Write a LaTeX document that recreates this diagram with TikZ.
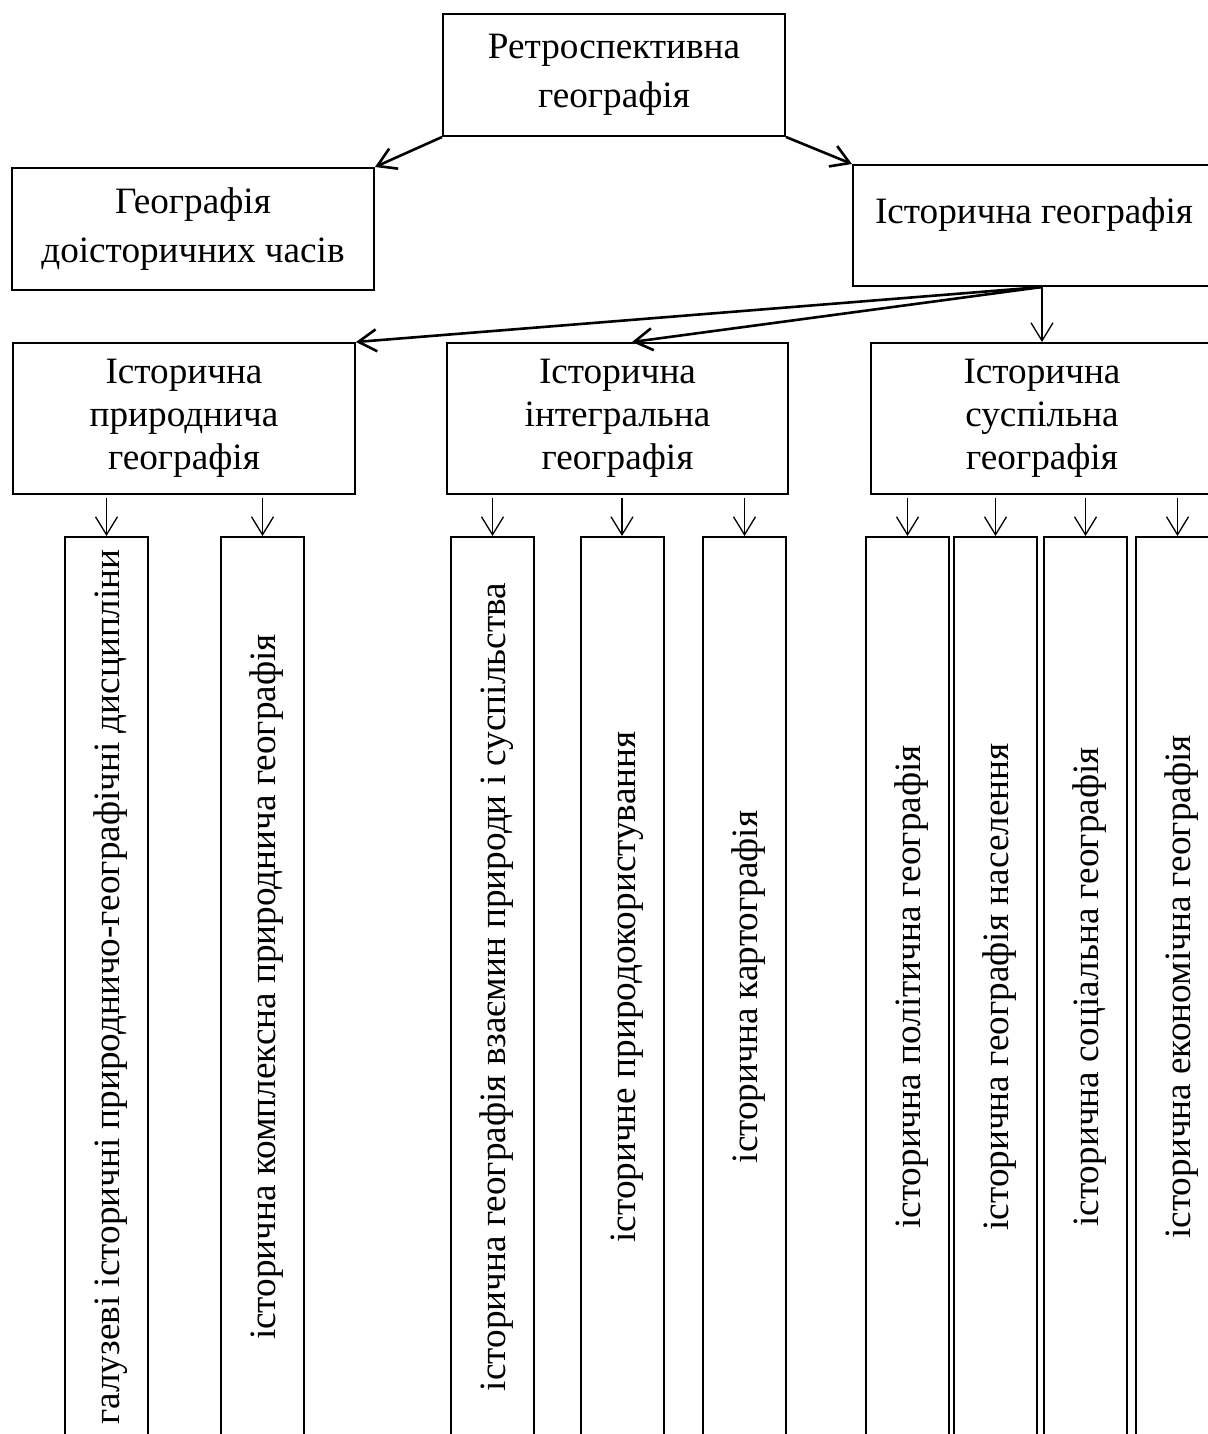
\documentclass[tikz,border=0pt]{standalone}
\usepackage{fontspec}
\setmainfont{Liberation Serif}
\usetikzlibrary{arrows.meta,calc}
\begin{document}
\begin{tikzpicture}[x=0.5pt,y=-0.5pt,
  topbox/.style={draw,line width=1pt,rectangle,inner sep=0pt,align=center,
    font=\fontsize{18.6pt}{24.5pt}\selectfont},
  midbox/.style={draw,line width=1pt,rectangle,inner sep=0pt,align=center,
    minimum width=171pt,minimum height=75.5pt,
    font=\fontsize{18.6pt}{21.5pt}\selectfont},
  leaf/.style={draw,line width=1pt,rectangle,inner sep=0pt,
    minimum width=41.5pt,minimum height=450pt},
  vtext/.style={rotate=90,anchor=base,inner sep=0pt,
    font=\fontsize{18.6pt}{21.5pt}\selectfont},
  htext/.style={anchor=base,inner sep=0pt,
    font=\fontsize{18.6pt}{21.5pt}\selectfont},
  thick arrow/.style={-{Straight Barb[length=9pt,width=11pt]},line width=1.3pt},
  thin arrow/.style={-{Straight Barb[length=9pt,width=11pt]},line width=0.65pt}
]
\useasboundingbox (0,0) rectangle (1208,1434);
\clip (0,0) rectangle (1208,1434);

% top level
\node[topbox,minimum width=171pt,minimum height=61pt] (rg) at (614,75) {Ретроспективна\\географія};
\node[topbox,minimum width=181pt,minimum height=61pt] (dg) at (193,229) {Географія\\доісторичних часів};
\node[topbox,minimum width=181pt,minimum height=60.5pt] (ig) at (1034,225.5) {};
\node[htext] (igt) at (1034,223) {Історична географія};

% middle level
\node[midbox] (m1) at (184,418.5) {Історична\\природнича\\географія};
\node[midbox,minimum width=170.5pt] (m2) at (617.5,418.5) {Історична\\інтегральна\\географія};
\node[midbox] (m3) at (1042,418.5) {Історична\\суспільна\\географія};

% leaves
\node[leaf] (a) at (106.5,987) {};
\node[leaf] (b) at (262.5,987) {};
\node[leaf] (c) at (492.5,987) {};
\node[leaf] (d) at (622,987) {};
\node[leaf] (e) at (744.5,987) {};
\node[leaf] (f) at (907.5,987) {};
\node[leaf] (g) at (995.5,987) {};
\node[leaf] (h) at (1085.5,987) {};
\node[leaf] (i) at (1177.5,987) {};

\node[vtext] (ta) at (119.5,987) {галузеві історичні природничо-географічні дисципліни};
\node[vtext] (tb) at (275.5,987) {історична комплексна природнича географія};
\node[vtext] (tc) at (505.5,987) {історична географія взаємин природи і суспільства};
\node[vtext] (td) at (635,987) {історичне природокористування};
\node[vtext] (te) at (757.5,987) {історична картографія};
\node[vtext] (tf) at (920.5,987) {історична політична географія};
\node[vtext] (tg) at (1008.5,987) {історична географія населення};
\node[vtext] (th) at (1098.5,987) {історична соціальна географія};
\node[vtext] (ti) at (1190.5,987) {історична економічна географія};

% connectors
\draw[thick arrow] (rg.south west) -- (dg.north east);
\draw[thick arrow] (rg.south east) -- (ig.north west);
\coordinate (igb) at (ig.south -| m3.north);
\coordinate (m2t) at ($(m2.north)+(14.5,0)$);
\draw[thick arrow] (igb) -- (m1.north east);
\draw[thick arrow] (igb) -- (m2t);
\draw[thin arrow] (igb) -- (m3.north);

\draw[thin arrow,shorten <=1.5pt] (m1.south -| a.north) -- (a.north);
\draw[thin arrow,shorten <=1.5pt] (m1.south -| b.north) -- (b.north);
\draw[thin arrow,shorten <=1.5pt] (m2.south -| c.north) -- (c.north);
\draw[thin arrow,shorten <=1.5pt] (m2.south -| d.north) -- (d.north);
\draw[thin arrow,shorten <=1.5pt] (m2.south -| e.north) -- (e.north);
\draw[thin arrow,shorten <=1.5pt] (m3.south -| f.north) -- (f.north);
\draw[thin arrow,shorten <=1.5pt] (m3.south -| g.north) -- (g.north);
\draw[thin arrow,shorten <=1.5pt] (m3.south -| h.north) -- (h.north);
\draw[thin arrow,shorten <=1.5pt] (m3.south -| i.north) -- (i.north);
\end{tikzpicture}
\end{document}
